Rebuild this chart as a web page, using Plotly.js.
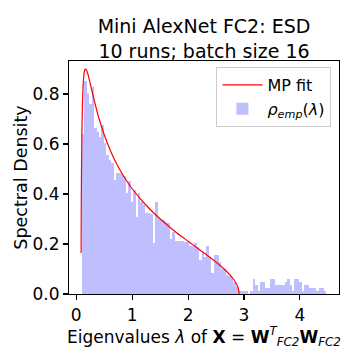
<!DOCTYPE html>
<html>
<head>
<meta charset="utf-8">
<script src="https://cdn.plot.ly/plotly-3.0.1.min.js"></script>
<style>html,body{margin:0;padding:0;background:#fff;}#chart{width:360px;height:360px;}</style>
</head>
<body>
<div id="chart"></div>
<script>
// Empirical spectral density: histogram bins (density values)
const binStart = 0.1;
const binWidth = 0.0437;
const empDensity = [
  0.64, 0.853, 0.805, 0.759, 0.829, 0.663, 0.649, 0.629, 0.676, 0.603,
  0.556, 0.536, 0.523, 0.456, 0.483, 0.483, 0.48, 0.472, 0.405, 0.452,
  0.369, 0.416, 0.309, 0.403, 0.369, 0.356, 0.323, 0.323, 0.32, 0.203,
  0.368, 0.299, 0.296, 0.296, 0.29, 0.285, 0.22, 0.25, 0.213, 0.213,
  0.213, 0.213, 0.209, 0.209, 0.193, 0.193, 0.203, 0.187, 0.136, 0.17,
  0.15, 0.192, 0.15, 0.085, 0.155, 0.155, 0.128, 0.102, 0.102, 0.076,
  0.072, 0.069, 0.049, 0.027, 0.013, 0.012, 0.012, 0.012, 0, 0.012,
  0.06, 0.036, 0.012, 0.047, 0.047, 0.023, 0.023, 0.06, 0.06, 0.036,
  0.036, 0.036, 0.036, 0.047, 0.06, 0.036, 0.012, 0.06, 0.06, 0.047,
  0.012, 0.036, 0.036, 0.023, 0.023, 0.023, 0.012, 0.023, 0.023, 0.012
];

// MP fit curve
const mpLambda = [0.0865, 0.09, 0.10, 0.11, 0.12, 0.13, 0.14, 0.15, 0.16, 0.17, 0.18, 0.20,
  0.25, 0.30, 0.35, 0.40, 0.50, 0.60, 0.70, 0.80, 0.90, 1.00, 1.20, 1.40, 1.60, 1.80,
  2.00, 2.20, 2.40, 2.60, 2.70, 2.80, 2.85, 2.90, 2.914];
const mpDensity = [0.164, 0.385, 0.636, 0.754, 0.820, 0.859, 0.882, 0.894, 0.899, 0.900, 0.897, 0.886,
  0.842, 0.794, 0.749, 0.707, 0.637, 0.579, 0.530, 0.489, 0.453, 0.421, 0.367, 0.321, 0.281, 0.244,
  0.211, 0.178, 0.145, 0.109, 0.088, 0.063, 0.047, 0.022, 0.0];

const binCenters = empDensity.map((_, i) => binStart + (i + 0.5) * binWidth);

const font = "DejaVu Sans, sans-serif";

const traces = [
  {
    type: 'bar',
    x: binCenters,
    y: empDensity,
    width: binWidth,
    marker: {color: 'rgb(191,191,255)', line: {width: 0}},
    name: '<i>ρ<sub>emp</sub></i>(<i>λ</i>)',
    legendrank: 2
  },
  {
    type: 'scatter',
    mode: 'lines',
    x: mpLambda,
    y: mpDensity,
    line: {color: 'red', width: 1.2, shape: 'spline', smoothing: 0.6},
    name: 'MP fit',
    legendrank: 1
  }
];

const layout = {
  width: 360,
  height: 360,
  margin: {l: 69, r: 21, t: 61, b: 66, autoexpand: false},
  paper_bgcolor: 'white',
  plot_bgcolor: 'white',
  font: {family: font, color: 'black', size: 17},
  title: {
    text: 'Mini AlexNet FC2: ESD<br>10 runs; batch size 16',
    font: {family: font, size: 19, color: 'black'},
    x: 0.5, xref: 'paper', xanchor: 'center',
    y: 0.907, yref: 'container', yanchor: 'top'
  },
  bargap: 0,
  xaxis: {
    range: [-0.13, 4.70],
    tickvals: [0, 1, 2, 3, 4],
    ticks: 'outside', ticklen: 5, tickwidth: 1.1, tickcolor: 'black',
    showline: true, linecolor: 'black', linewidth: 1.1, mirror: true,
    showgrid: false, zeroline: false, automargin: false,
    tickfont: {family: font, size: 17},
    title: {
      text: 'Eigenvalues <i>λ</i> of <b>X</b> = <b>W</b><sup><i>T</i></sup><sub><i>FC2</i></sub><b>W</b><sub><i>FC2</i></sub>',
      font: {family: font, size: 17},
      standoff: 0
    }
  },
  yaxis: {
    range: [0, 0.932],
    tickvals: [0, 0.2, 0.4, 0.6, 0.8],
    tickformat: '.1f',
    ticks: 'outside', ticklen: 5, tickwidth: 1.1, tickcolor: 'black',
    showline: true, linecolor: 'black', linewidth: 1.1, mirror: true,
    showgrid: false, zeroline: false, automargin: false,
    tickfont: {family: font, size: 17},
    title: {text: 'Spectral Density', font: {family: font, size: 17.5}, standoff: 0}
  },
  legend: {
    x: 0.972, xanchor: 'right', y: 0.974, yanchor: 'top',
    bgcolor: 'white', bordercolor: '#cccccc', borderwidth: 1,
    font: {family: font, size: 16},
    itemwidth: 40,
    traceorder: 'normal'
  },
  showlegend: true
};

Plotly.newPlot('chart', traces, layout, {staticPlot: true, displayModeBar: false});
</script>
</body>
</html>
